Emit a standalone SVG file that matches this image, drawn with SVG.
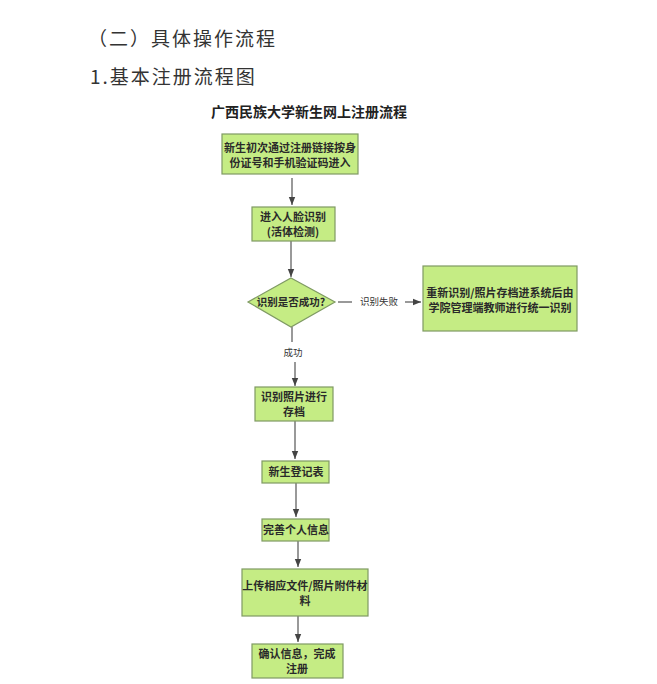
<svg xmlns="http://www.w3.org/2000/svg" width="657" height="684" viewBox="0 0 657 684">
<defs>
<style>
.n{fill:#c5ec84;stroke:#7f9a63;stroke-width:1.2}
.t{font-family:"Noto Sans CJK SC","Liberation Sans",sans-serif;font-size:11px;font-weight:bold;fill:#2a2a2a;text-anchor:middle}
.c line{stroke:#555;stroke-width:1.2}
.h{font-family:"Noto Sans CJK SC",serif;font-size:19px;fill:#333;letter-spacing:2px}
.s{font-family:"Noto Sans CJK SC",sans-serif;font-size:9.5px;fill:#333;text-anchor:middle}
</style>
<marker id="a" viewBox="0 0 10 10" refX="10" refY="5" markerWidth="7" markerHeight="7" orient="auto"><path d="M0,1 L10,5 L0,9 z" fill="#444"/></marker>
</defs>
<rect width="657" height="684" fill="#fff"/>
<text class="h" x="88" y="46">（二）具体操作流程</text>
<text class="h" x="90" y="84">1.基本注册流程图</text>
<text x="309" y="117" style="font-family:'Noto Sans CJK SC',sans-serif;font-size:14px;font-weight:bold;fill:#222;text-anchor:middle">广西民族大学新生网上注册流程</text>
<g class="c">
<line x1="292" y1="178" x2="292" y2="205" marker-end="url(#a)"/>
<line x1="291" y1="241" x2="291" y2="277" marker-end="url(#a)"/>
<line x1="338" y1="302" x2="352" y2="302"/>
<line x1="405" y1="302" x2="421" y2="302" marker-end="url(#a)"/>
<line x1="292" y1="327" x2="292" y2="342"/>
<line x1="295" y1="362" x2="295" y2="386" marker-end="url(#a)"/>
<line x1="295" y1="421" x2="295" y2="459" marker-end="url(#a)"/>
<line x1="296" y1="483" x2="296" y2="517" marker-end="url(#a)"/>
<line x1="298" y1="541" x2="298" y2="567" marker-end="url(#a)"/>
<line x1="298" y1="616" x2="298" y2="642" marker-end="url(#a)"/>
<text class="s" x="379" y="305">识别失败</text>
<text class="s" x="293" y="356">成功</text>
</g>
<g id="n1"><rect class="n" x="222" y="134" width="136" height="40"/><text class="t" x="290" y="152">新生初次通过注册链接按身</text><text class="t" x="290" y="167">份证号和手机验证码进入</text></g>
<g id="n2"><rect class="n" x="252" y="207" width="83" height="34"/><text class="t" x="293" y="221">进入人脸识别</text><text class="t" x="293" y="236">(活体检测)</text></g>
<g id="n3"><polygon class="n" points="291,278 335,302 291,327 248,302"/><text class="t" x="291" y="306" style="font-size:10.5px">识别是否成功?</text></g>
<g id="n4"><rect class="n" x="423" y="266" width="154" height="65"/><text class="t" x="500" y="297">重新识别/照片存档进系统后由</text><text class="t" x="500" y="312">学院管理端教师进行统一识别</text></g>
<g id="n5"><rect class="n" x="255" y="387" width="78" height="34"/><text class="t" x="294" y="401">识别照片进行</text><text class="t" x="294" y="416">存档</text></g>
<g id="n6"><rect class="n" x="262" y="461" width="67" height="22"/><text class="t" x="296" y="476">新生登记表</text></g>
<g id="n7"><rect class="n" x="262" y="519" width="67" height="22"/><text class="t" x="296" y="534">完善个人信息</text></g>
<g id="n8"><rect class="n" x="242" y="569" width="126" height="47"/><text class="t" x="305" y="590">上传相应文件/照片附件材</text><text class="t" x="305" y="605">料</text></g>
<g id="n9"><rect class="n" x="252" y="644" width="91" height="34"/><text class="t" x="297" y="658">确认信息，完成</text><text class="t" x="297" y="673">注册</text></g>
</svg>
